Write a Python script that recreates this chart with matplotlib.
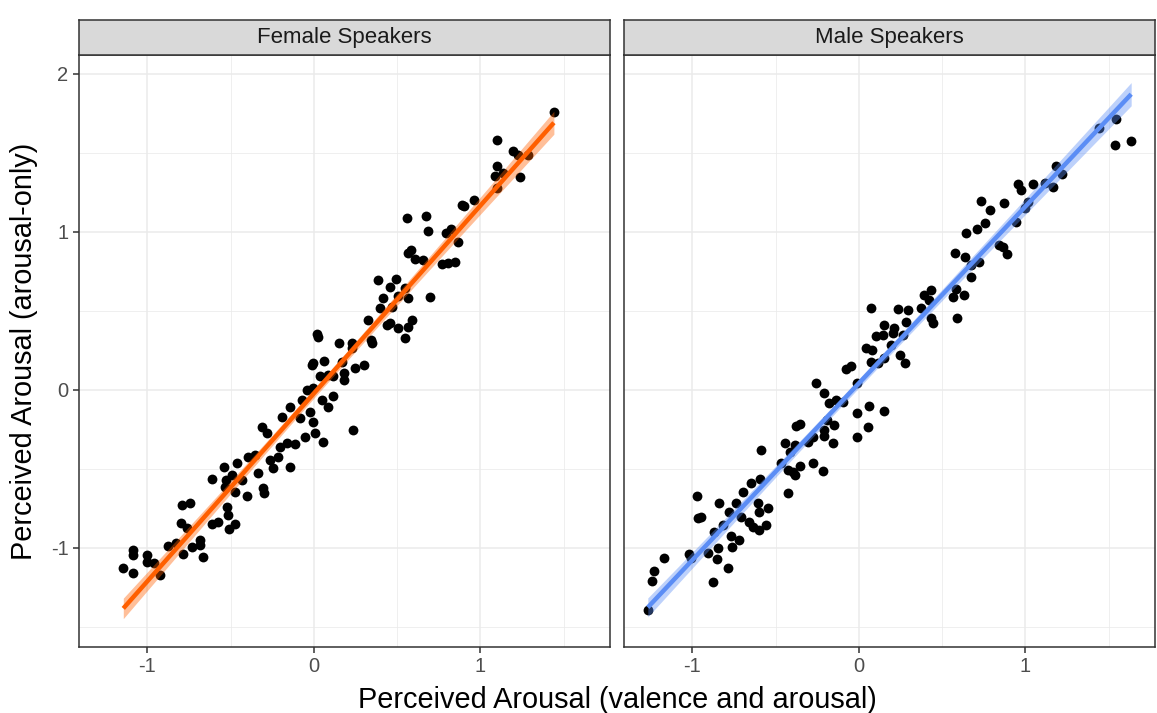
import matplotlib
matplotlib.use("Agg")
import matplotlib.pyplot as plt
import numpy as np

plt.rcParams['font.family'] = ['Liberation Sans', 'DejaVu Sans']
plt.rcParams['axes.unicode_minus'] = False

# arousal ratings per stimulus: combined task (x) vs arousal-only task (y)
female_x = [-1.145, -1.085, -1.089, -1.089, -1.005, -1.005, -0.961, -0.925, -0.875, -0.829,
            -0.789, -0.735, -0.685, -0.685, -0.665, -0.801, -0.765, -0.795, -0.745, -0.614,
            -0.575, -0.515, -0.509, -0.474, -0.524, -0.614, -0.541, -0.529, -0.535, -0.474,
            -0.404, -0.494, -0.461, -0.434, -0.395, -0.354, -0.335, -0.305, -0.300, -0.264,
            -0.244, -0.284, -0.214, -0.144, -0.204, -0.164, -0.114, -0.314, -0.194, -0.144,
            -0.084, -0.054, -0.004, 0.006, 0.056, -0.024, -0.074, -0.044, -0.004, 0.046,
            0.086, 0.112, 0.232, -0.014, -0.004, 0.026, 0.021, 0.060, 0.036, 0.086,
            0.116, 0.152, 0.166, 0.180, 0.180, 0.226, 0.226, 0.246, 0.300, 0.326,
            0.341, 0.347, 0.396, 0.416, 0.386, 0.456, 0.492, 0.467, 0.506, 0.547,
            0.566, 0.697, 0.437, 0.456, 0.506, 0.566, 0.587, 0.547, 0.557, 0.673,
            0.686, 0.566, 0.585, 0.607, 0.656, 0.767, 0.807, 0.847, 0.793, 0.821,
            0.867, 0.887, 0.901, 0.961, 1.441, 1.101, 1.197, 1.227, 1.287, 1.097,
            1.087, 1.137, 1.097, 1.237]
female_y = [-1.128, -1.156, -1.013, -1.044, -1.044, -1.087, -1.093, -1.171, -0.987, -0.966,
            -1.038, -0.996, -0.949, -0.981, -1.059, -0.840, -0.875, -0.728, -0.717, -0.850,
            -0.834, -0.791, -0.882, -0.850, -0.742, -0.565, -0.489, -0.570, -0.612, -0.644,
            -0.669, -0.538, -0.460, -0.570, -0.422, -0.411, -0.527, -0.622, -0.654, -0.443,
            -0.496, -0.274, -0.422, -0.485, -0.359, -0.337, -0.342, -0.232, -0.169, -0.109,
            -0.179, -0.296, -0.201, -0.274, -0.327, -0.137, -0.063, 0.000, 0.011, -0.063,
            -0.106, -0.036, -0.253, 0.158, 0.169, 0.337, 0.355, 0.185, 0.089, 0.095,
            0.089, 0.296, 0.179, 0.109, 0.063, 0.299, 0.264, 0.137, 0.158, 0.443,
            0.316, 0.296, 0.517, 0.580, 0.696, 0.654, 0.701, 0.527, 0.595, 0.644,
            0.580, 0.591, 0.411, 0.422, 0.391, 0.401, 0.443, 0.327, 1.087, 1.101,
            1.008, 0.869, 0.885, 0.827, 0.823, 0.797, 0.802, 0.812, 0.992, 1.017,
            0.939, 1.171, 1.165, 1.203, 1.758, 1.582, 1.513, 1.487, 1.487, 1.420,
            1.356, 1.372, 1.277, 1.350]

male_x = [-1.268, -1.242, -1.228, -1.168, -1.018, -1.008, -0.974, -0.968, -0.948, -0.908,
          -0.874, -0.868, -0.848, -0.854, -0.838, -0.818, -0.788, -0.778, -0.768, -0.762,
          -0.738, -0.718, -0.708, -0.698, -0.658, -0.647, -0.638, -0.608, -0.598, -0.598,
          -0.593, -0.557, -0.548, -0.467, -0.428, -0.398, -0.387, -0.587, -0.428, -0.357,
          -0.277, -0.213, -0.447, -0.417, -0.387, -0.377, -0.353, -0.308, -0.277, -0.207,
          -0.193, -0.147, -0.153, -0.207, -0.257, -0.207, -0.177, -0.137, -0.097, -0.077,
          -0.047, -0.013, -0.013, -0.013, 0.053, 0.059, 0.153, 0.043, 0.079, 0.073,
          0.113, 0.153, 0.103, 0.143, 0.203, 0.193, 0.247, 0.279, 0.073, 0.233,
          0.293, 0.283, 0.153, 0.213, 0.263, 0.374, 0.393, 0.434, 0.423, 0.434,
          0.443, 0.563, 0.584, 0.628, 0.590, 0.574, 0.634, 0.674, 0.674, 0.720,
          0.644, 0.708, 0.760, 0.844, 0.864, 0.888, 0.944, 0.788, 0.734, 0.874,
          0.954, 0.974, 1.000, 1.014, 1.048, 1.120, 1.168, 1.184, 1.220, 1.440,
          1.541, 1.535, 1.635]
male_y = [-1.392, -1.207, -1.144, -1.061, -1.040, -1.065, -0.669, -0.812, -0.806, -1.034,
          -1.217, -0.897, -1.002, -1.072, -0.713, -0.854, -1.128, -0.770, -0.924, -0.992,
          -0.717, -0.949, -0.802, -0.644, -0.834, -0.591, -0.865, -0.717, -0.770, -0.886,
          -0.565, -0.854, -0.749, -0.460, -0.654, -0.517, -0.538, -0.380, -0.506, -0.481,
          -0.460, -0.511, -0.337, -0.391, -0.348, -0.228, -0.215, -0.327, -0.296, -0.291,
          -0.190, -0.222, -0.334, -0.253, 0.042, -0.017, -0.084, -0.063, -0.074, 0.131,
          0.152, 0.046, -0.147, -0.296, -0.232, -0.101, -0.131, 0.264, 0.253, 0.179,
          0.169, 0.201, 0.342, 0.348, 0.359, 0.285, 0.222, 0.173, 0.517, 0.511,
          0.506, 0.432, 0.411, 0.391, 0.348, 0.517, 0.601, 0.633, 0.570, 0.454,
          0.422, 0.587, 0.637, 0.601, 0.454, 0.869, 0.844, 0.717, 0.791, 0.812,
          0.996, 1.017, 1.055, 0.918, 0.907, 0.859, 1.065, 1.139, 1.196, 1.182,
          1.304, 1.266, 1.150, 1.192, 1.304, 1.308, 1.287, 1.418, 1.367, 1.656,
          1.713, 1.551, 1.578]

panels = [("Female Speakers", female_x, female_y, "#FF5F00"),
          ("Male Speakers", male_x, male_y, "#5B8DF5")]

x_ticks = [-1, 0, 1]
y_ticks = [-1, 0, 1, 2]


def lm_fit(x, y):
    # ordinary least squares line with 95% confidence band
    x = np.asarray(x)
    y = np.asarray(y)
    n = len(x)
    slope, icpt = np.polyfit(x, y, 1)
    resid = y - (slope * x + icpt)
    s = np.sqrt(np.sum(resid ** 2) / (n - 2))
    xs = np.linspace(x.min(), x.max(), 80)
    fit = slope * xs + icpt
    se = s * np.sqrt(1 / n + (xs - x.mean()) ** 2 / np.sum((x - x.mean()) ** 2))
    return xs, fit, 1.97 * se


fig = plt.figure(figsize=(11.57, 7.13), dpi=100)
W, H = 1157, 713
panel_lefts = [79, 624]
panel_w = 531
top, bottom = 55, 647
strip_h = 35

for i, (title, px, py, col) in enumerate(panels):
    left = panel_lefts[i]
    ax = fig.add_axes([left / W, 1 - bottom / H, panel_w / W, (bottom - top) / H])
    ax.set_xlim(-1.411, 1.778)
    ax.set_ylim(-1.627, 2.120)
    ax.set_xticks(x_ticks)
    ax.set_yticks(y_ticks)
    ax.set_xticks([-0.5, 0.5, 1.5], minor=True)
    ax.set_yticks([-1.5, -0.5, 0.5, 1.5], minor=True)
    ax.grid(True, which='major', color='#EBEBEB', lw=1.1)
    ax.grid(True, which='minor', color='#EBEBEB', lw=0.55)
    ax.set_axisbelow(True)
    for sp in ax.spines.values():
        sp.set_color('#333333')
        sp.set_linewidth(1.1)
    ax.tick_params(which='major', length=4, width=1.1, color='#333333',
                   labelcolor='#4D4D4D', labelsize=14.5)
    ax.tick_params(which='minor', length=0)
    if i == 1:
        ax.tick_params(axis='y', which='both', left=False, labelleft=False)

    ax.scatter(px, py, s=50, color='black', linewidths=0, zorder=3)
    xs, fit, band = lm_fit(px, py)
    ax.fill_between(xs, fit - band, fit + band, color=col, alpha=0.4, lw=0, zorder=4)
    ax.plot(xs, fit, color=col, lw=3.2, zorder=5, solid_capstyle='butt')

    # facet strip
    sax = fig.add_axes([left / W, 1 - top / H, panel_w / W, strip_h / H])
    sax.set_facecolor('#D9D9D9')
    sax.set_xticks([])
    sax.set_yticks([])
    for sp in sax.spines.values():
        sp.set_color('#333333')
        sp.set_linewidth(1.1)
    sax.text(0.5, 0.5, title, ha='center', va='center', fontsize=16,
             color='#1A1A1A', transform=sax.transAxes)

fig.text((79 + 1155) / 2 / W, 1 - 700 / H, "Perceived Arousal (valence and arousal)",
         ha='center', va='center', fontsize=20.8)
fig.text(24 / W, 1 - 351 / H, "Perceived Arousal (arousal-only)",
         ha='center', va='center', rotation=90, fontsize=20.8)

fig.savefig("out.png", dpi=100)
